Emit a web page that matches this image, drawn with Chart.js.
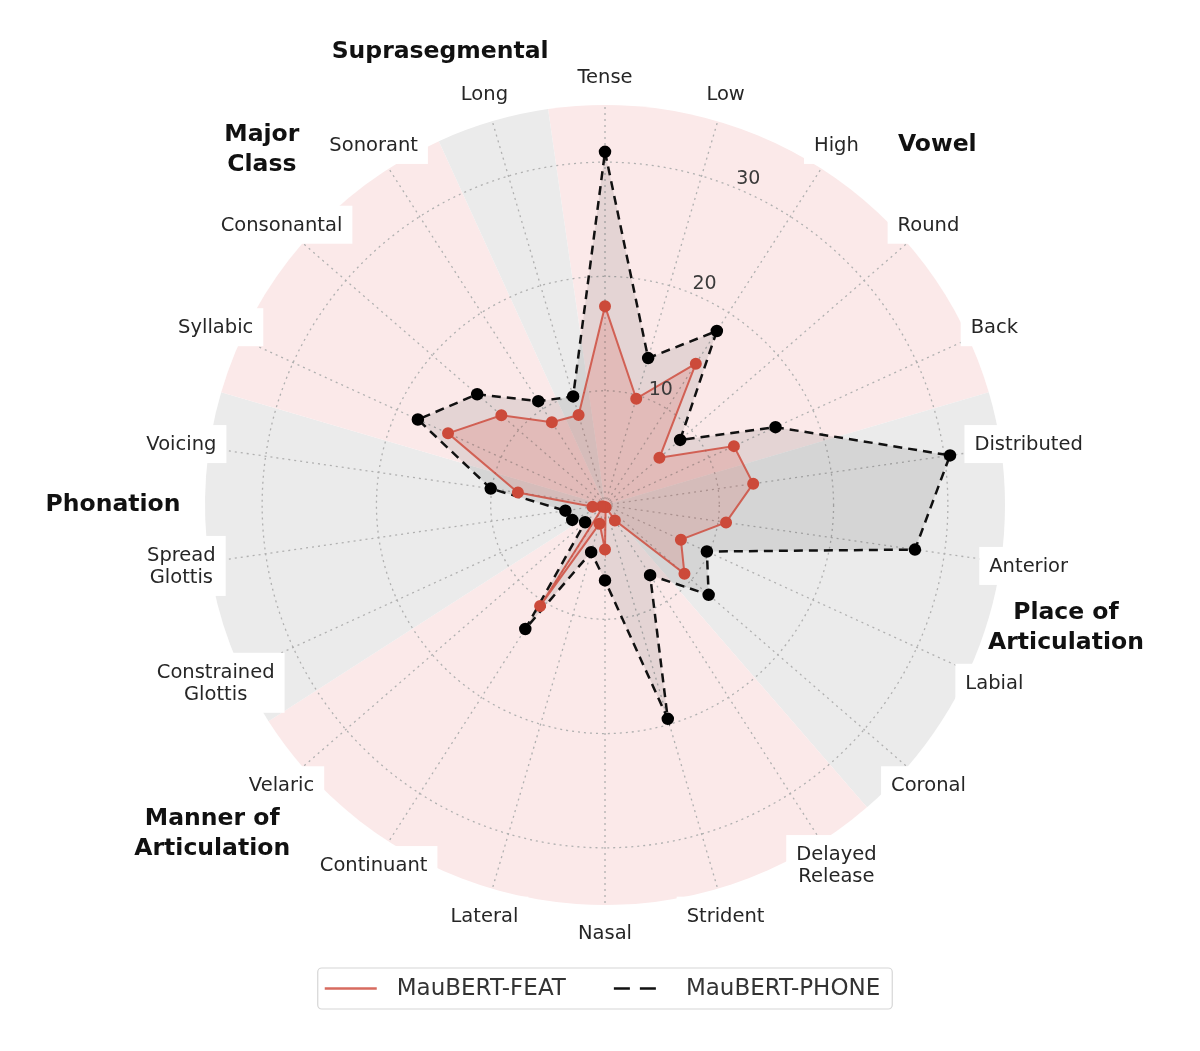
<!DOCTYPE html>
<html>
<head>
<meta charset="utf-8">
<title>MauBERT radar</title>
<script src="https://cdn.jsdelivr.net/npm/chart.js@4.4.1/dist/chart.umd.min.js"></script>
<style>
  html, body { margin: 0; padding: 0; background: #fff; }
  #wrap { width: 1200px; height: 1051px; position: relative; }
</style>
</head>
<body>
<div id="wrap"><canvas id="radar"></canvas></div>
<script>
// phonological features, clockwise from the top
const features = [
  'Tense', 'Low', 'High', 'Round', 'Back',
  'Distributed', 'Anterior', 'Labial', 'Coronal',
  ['Delayed', 'Release'], 'Strident', 'Nasal', 'Lateral', 'Continuant', 'Velaric',
  ['Constrained', 'Glottis'], ['Spread', 'Glottis'], 'Voicing',
  'Syllabic', 'Consonantal', 'Sonorant',
  'Long'
];

const featScores  = [17.4, 9.7, 14.7, 6.3, 12.4, 13.1, 10.7, 7.3, 9.2, 1.6, 0.2, 3.9, 1.7, 10.5, 0.2, 0.3, 1.1, 7.7, 15.1, 12.0, 8.6, 8.2];
const phoneScores = [30.9, 13.4, 18.1, 8.7, 16.4, 30.5, 27.4, 9.8, 12.0, 7.3, 19.5, 6.6, 4.3, 12.9, 2.3, 3.15, 3.5, 10.1, 18.0, 14.8, 10.8, 9.9];

const radialTicks = [10, 20, 30];
const radialMax = 35;

// feature groups (first and last feature index of each)
const groupNames = ['Vowel', ['Place of', 'Articulation'], ['Manner of', 'Articulation'], 'Phonation', ['Major', 'Class'], 'Suprasegmental'];
const groupFirst = [0, 5, 9, 15, 18, 21];
const groupLast  = [4, 8, 14, 17, 20, 21];

// where the group titles sit: degrees clockwise from top, px from centre
const groupTitleAngle = [42.7, 104.9, 230.1, 270, 316, 340];
const groupTitleDist  = [490, 477, 512, 492, 494, 482];

const FONT = '"DejaVu Sans"';

function polar(scale, deg, dist) {
  const a = deg * Math.PI / 180;
  return { x: scale.xCenter + dist * Math.sin(a), y: scale.yCenter - dist * Math.cos(a) };
}

const shading = {
  id: 'shading',
  beforeDraw(chart) {
    const r = chart.scales.r;
    const ctx = chart.ctx;
    const step = Math.PI * 2 / features.length;
    const outer = r.getDistanceFromCenterForValue(radialMax);
    ctx.save();
    ctx.fillStyle = '#fff';
    ctx.fillRect(0, 0, chart.width, chart.height);
    groupFirst.forEach((first, g) => {
      const a0 = r.getIndexAngle(first) - step / 2 - Math.PI / 2;
      let a1 = r.getIndexAngle(groupLast[g]) + step / 2 - Math.PI / 2;
      if (a1 < a0) a1 += Math.PI * 2;
      ctx.beginPath();
      ctx.moveTo(r.xCenter, r.yCenter);
      ctx.arc(r.xCenter, r.yCenter, outer, a0, a1);
      ctx.closePath();
      ctx.fillStyle = g % 2 === 0 ? '#fbe9e9' : '#ebebeb';
      ctx.fill();
    });
    ctx.restore();
  }
};

const annotations = {
  id: 'annotations',
  afterDraw(chart) {
    const r = chart.scales.r;
    const ctx = chart.ctx;
    const outer = r.getDistanceFromCenterForValue(radialMax);
    ctx.save();

    // radial tick labels along 22.5 degrees
    ctx.font = '19px ' + FONT;
    ctx.fillStyle = '#3a3a3a';
    ctx.textAlign = 'left';
    ctx.textBaseline = 'bottom';
    radialTicks.forEach(v => {
      const p = polar(r, 22.5, r.getDistanceFromCenterForValue(v));
      ctx.fillText(String(v), p.x, p.y);
    });

    // feature labels with white boxes
    ctx.font = '19.5px ' + FONT;
    ctx.textAlign = 'center';
    ctx.textBaseline = 'middle';
    const lh = 22;
    features.forEach((lab, i) => {
      const lines = Array.isArray(lab) ? lab : [lab];
      const p = r.getPointPosition(i, outer + 28);
      const w = Math.max(...lines.map(l => ctx.measureText(l).width));
      const h = lh * lines.length;
      ctx.fillStyle = '#fff';
      ctx.fillRect(p.x - w / 2 - 10, p.y - h / 2 - 8, w + 20, h + 16);
      ctx.fillStyle = '#262626';
      lines.forEach((l, k) => ctx.fillText(l, p.x, p.y - h / 2 + lh / 2 + k * lh + 1));
    });

    // group titles
    ctx.font = 'bold 23.5px ' + FONT;
    ctx.fillStyle = '#111';
    groupNames.forEach((name, g) => {
      const lines = Array.isArray(name) ? name : [name];
      const p = polar(r, groupTitleAngle[g], groupTitleDist[g]);
      const glh = 30;
      lines.forEach((l, k) => ctx.fillText(l, p.x, p.y - (lines.length - 1) * glh / 2 + k * glh));
    });

    // legend
    const ds = chart.data.datasets;
    ctx.font = '23px ' + FONT;
    const handle = 52, gapText = 20, gapItem = 48, padL = 7, padR = 12;
    const widths = ds.map(d => ctx.measureText(d.label).width);
    const total = padL + padR + ds.length * (handle + gapText) + widths.reduce((a, b) => a + b, 0) + gapItem * (ds.length - 1);
    const top = 968, height = 41;
    const left = r.xCenter - total / 2;
    ctx.beginPath();
    ctx.roundRect(left, top, total, height, 4);
    ctx.fillStyle = '#fff';
    ctx.fill();
    ctx.strokeStyle = '#d6d6d6';
    ctx.lineWidth = 1.2;
    ctx.stroke();
    let x = left + padL;
    const cy = top + height / 2;
    ds.forEach((d, k) => {
      ctx.beginPath();
      ctx.setLineDash(d.borderDash ? [16, 10] : []);
      ctx.strokeStyle = d.borderColor;
      ctx.lineWidth = 2.5;
      ctx.moveTo(x, cy);
      ctx.lineTo(x + handle, cy);
      ctx.stroke();
      ctx.setLineDash([]);
      x += handle + gapText;
      ctx.fillStyle = '#333';
      ctx.textAlign = 'left';
      ctx.fillText(d.label, x, cy + 1);
      x += widths[k] + gapItem;
    });
    ctx.restore();
  }
};

new Chart(document.getElementById('radar'), {
  type: 'radar',
  data: {
    labels: features,
    datasets: [
      {
        label: 'MauBERT-FEAT',
        data: featScores,
        borderColor: 'rgba(205, 70, 55, 0.8)',
        backgroundColor: 'rgba(214, 80, 65, 0.18)',
        borderWidth: 2,
        pointRadius: 5,
        pointBackgroundColor: '#cc4a3a',
        pointBorderColor: '#cc4a3a',
        fill: true
      },
      {
        label: 'MauBERT-PHONE',
        data: phoneScores,
        borderColor: '#111',
        borderDash: [9, 6],
        backgroundColor: 'rgba(0, 0, 0, 0.09)',
        borderWidth: 2.5,
        pointRadius: 5,
        pointBackgroundColor: '#000',
        pointBorderColor: '#000',
        fill: true
      }
    ]
  },
  options: {
    responsive: true,
    maintainAspectRatio: false,
    animation: false,
    events: [],
    layout: { padding: { left: 205, right: 195, top: 105, bottom: 146 } },
    plugins: { legend: { display: false }, tooltip: { enabled: false } },
    elements: { line: { tension: 0 } },
    scales: {
      r: {
        min: 0,
        max: radialMax,
        ticks: { display: false, stepSize: 10 },
        pointLabels: { display: false },
        grid: {
          circular: true,
          color: c => (c.tick && c.tick.value > 0 && c.tick.value < radialMax) ? '#b0b0b0' : 'rgba(0,0,0,0)',
          lineWidth: 1.3,
          borderDash: [2, 4]
        },
        border: { dash: [2, 4] },
        angleLines: { color: '#b0b0b0', lineWidth: 1.3, borderDash: [2, 4] }
      }
    }
  },
  plugins: [shading, annotations]
});
</script>
</body>
</html>
